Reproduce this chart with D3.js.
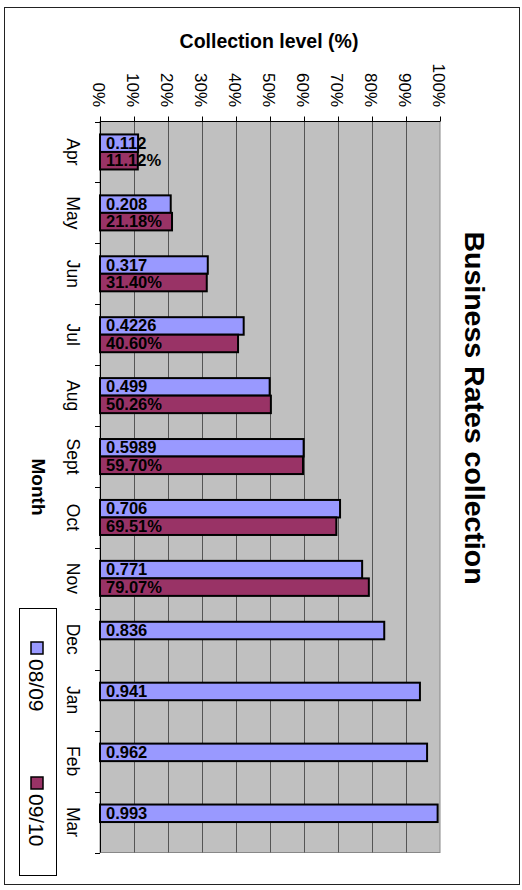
<!DOCTYPE html>
<html>
<head>
<meta charset="utf-8">
<script src="https://cdn.jsdelivr.net/npm/d3@7/dist/d3.min.js"></script>
<style>
  body { margin: 0; background: #fff; }
  svg { display: block; }
  text { font-family: "Liberation Sans", Arial, sans-serif; fill: #000; }
</style>
</head>
<body>
<script>
// Business rates collection level by month, two financial years
const months = ["Apr", "May", "Jun", "Jul", "Aug", "Sept", "Oct", "Nov", "Dec", "Jan", "Feb", "Mar"];
const series = ["08/09", "09/10"];
const values0809 = [0.112, 0.208, 0.317, 0.4226, 0.499, 0.5989, 0.706, 0.771, 0.836, 0.941, 0.962, 0.993];
const values0910 = [0.1112, 0.2118, 0.314, 0.406, 0.5026, 0.597, 0.6951, 0.7907];
const tickValues = [0, 0.1, 0.2, 0.3, 0.4, 0.5, 0.6, 0.7, 0.8, 0.9, 1.0];
const colors = ["#9999ff", "#993366"];

const W = 522, H = 890;
const plot = { left: 100, right: 440, top: 121.5, bottom: 852.5 };

const svg = d3.select("body").append("svg").attr("width", W).attr("height", H);

// outer frame
svg.append("rect").attr("x", 4.5).attr("y", 7.5).attr("width", 515).attr("height", 877)
  .attr("fill", "#fff").attr("stroke", "#222").attr("stroke-width", 1);

const x = d3.scaleLinear().domain([0, 1]).range([plot.left, plot.right]);
const y = d3.scaleBand().domain(months).range([plot.top, plot.bottom])
  .paddingInner(0.425).paddingOuter(0.2125);
const ySub = d3.scaleBand().domain(series).range([0, y.bandwidth()]);

// plot background
svg.append("rect").attr("x", plot.left).attr("y", plot.top)
  .attr("width", plot.right - plot.left).attr("height", plot.bottom - plot.top)
  .attr("fill", "#c0c0c0").attr("stroke", "#888").attr("stroke-width", 1);

// vertical gridlines
svg.append("g").selectAll("line").data(tickValues.slice(1, -1)).join("line")
  .attr("x1", d => Math.round(x(d)) + 0.5).attr("x2", d => Math.round(x(d)) + 0.5)
  .attr("y1", plot.top).attr("y2", plot.bottom)
  .attr("stroke", "#555").attr("stroke-width", 1);

// bars
const rows = months.map((m, i) => ({
  month: m,
  vals: [values0809[i], values0910[i]]
}));

const groups = svg.append("g").selectAll("g").data(rows).join("g")
  .attr("transform", d => `translate(0,${y(d.month)})`);

groups.selectAll("rect")
  .data(d => d.vals.map((v, k) => ({ key: series[k], v, k })).filter(e => e.v !== undefined))
  .join("rect")
  .attr("x", x(0))
  .attr("y", d => ySub(d.key))
  .attr("width", d => x(d.v) - x(0))
  .attr("height", ySub.bandwidth())
  .attr("fill", d => colors[d.k])
  .attr("stroke", "#000").attr("stroke-width", 2);

// value labels
const fmtPct = d3.format(".2%");
groups.selectAll("text.val")
  .data(d => d.vals.map((v, k) => ({ key: series[k], v, k })).filter(e => e.v !== undefined))
  .join("text").attr("class", "val")
  .attr("x", x(0) + 6)
  .attr("y", d => ySub(d.key) + ySub.bandwidth() / 2 + 5.5)
  .attr("font-size", 16.5).attr("font-weight", "bold")
  .text(d => d.k === 0 ? String(d.v) : fmtPct(d.v));

// value axis along the top
const xAxis = svg.append("g");
xAxis.append("line").attr("x1", plot.left).attr("x2", plot.right)
  .attr("y1", plot.top).attr("y2", plot.top).attr("stroke", "#000");
xAxis.selectAll("line.tick").data(tickValues).join("line").attr("class", "tick")
  .attr("x1", d => Math.round(x(d)) + 0.5).attr("x2", d => Math.round(x(d)) + 0.5)
  .attr("y1", plot.top - 5).attr("y2", plot.top).attr("stroke", "#000");
xAxis.selectAll("text").data(tickValues).join("text")
  .attr("transform", d => `translate(${x(d) - 7},107) rotate(90)`)
  .attr("text-anchor", "end").attr("font-size", 17)
  .text(d3.format(".0%"));

// category axis along the left
const yAxis = svg.append("g");
yAxis.append("line").attr("x1", plot.left + 0.5).attr("x2", plot.left + 0.5)
  .attr("y1", plot.top).attr("y2", plot.bottom).attr("stroke", "#000");
const step = y.step();
const bounds = d3.range(months.length + 1).map(i => plot.top + i * step);
yAxis.selectAll("line.tick").data(bounds).join("line").attr("class", "tick")
  .attr("x1", plot.left - 5).attr("x2", plot.left)
  .attr("y1", d => Math.round(d) + 0.5).attr("y2", d => Math.round(d) + 0.5)
  .attr("stroke", "#000");
yAxis.selectAll("text").data(months).join("text")
  .attr("transform", d => `translate(67,${y(d) + y.bandwidth() / 2}) rotate(90)`)
  .attr("text-anchor", "middle").attr("font-size", 17.5)
  .text(d => d);

// axis titles
svg.append("text").attr("x", 269).attr("y", 48).attr("text-anchor", "middle")
  .attr("font-size", 19.5).attr("font-weight", "bold").text("Collection level (%)");
svg.append("text")
  .attr("transform", `translate(32,${(plot.top + plot.bottom) / 2}) rotate(90)`)
  .attr("text-anchor", "middle").attr("font-size", 19).attr("font-weight", "bold")
  .text("Month");

// chart title
svg.append("text")
  .attr("transform", `translate(465,408) rotate(90)`)
  .attr("text-anchor", "middle").attr("font-size", 28.5).attr("font-weight", "bold")
  .text("Business Rates collection");

// legend
const legend = svg.append("g");
legend.append("rect").attr("x", 19.5).attr("y", 608.5).attr("width", 37).attr("height", 267)
  .attr("fill", "#fff").attr("stroke", "#000").attr("stroke-width", 1);
const legendY = [642, 777];
series.forEach((s, k) => {
  legend.append("rect").attr("x", 31).attr("y", legendY[k]).attr("width", 12).attr("height", 12)
    .attr("fill", colors[k]).attr("stroke", "#000").attr("stroke-width", 1.5);
  legend.append("text")
    .attr("transform", `translate(29,${legendY[k] + 17}) rotate(90)`)
    .attr("font-size", 21).text(s);
});
</script>
</body>
</html>
